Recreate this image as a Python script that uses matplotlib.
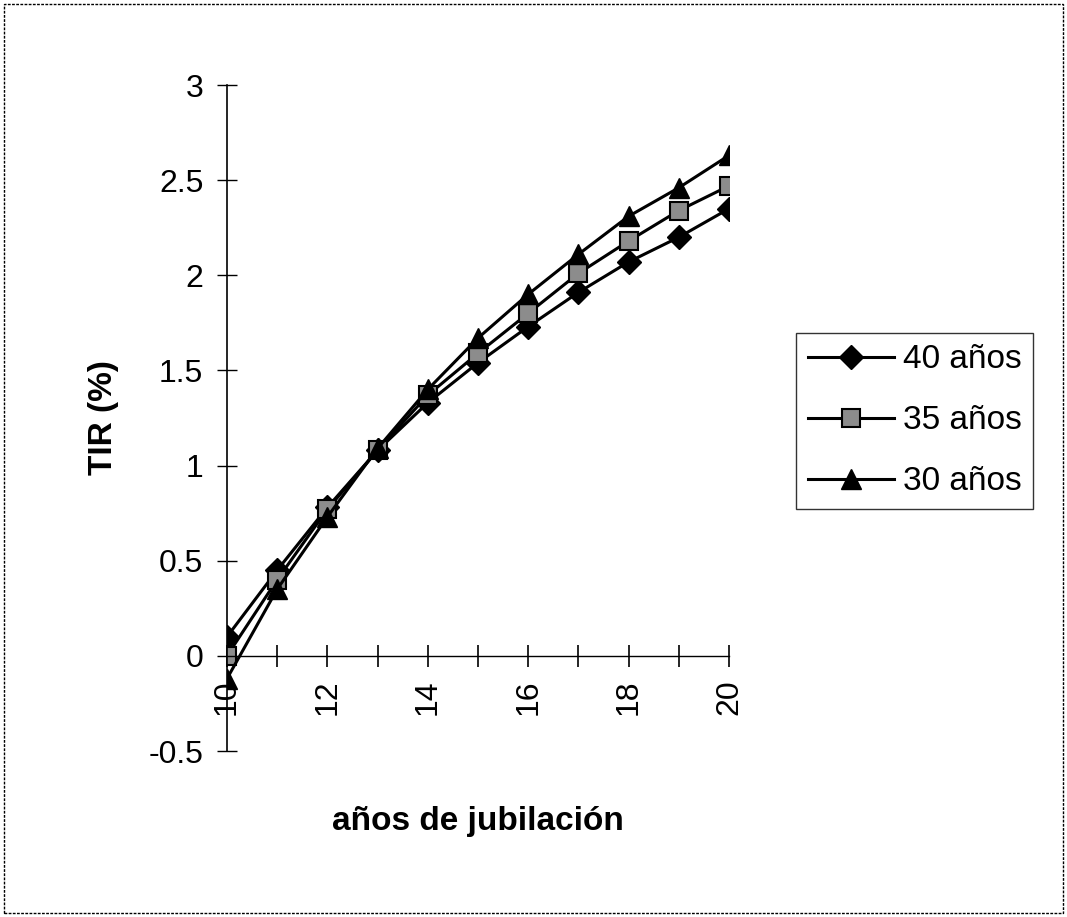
import numpy as np
import matplotlib.pyplot as plt
from matplotlib.patches import Rectangle

plt.rcParams['font.family'] = ['Liberation Sans', 'DejaVu Sans']

# años de jubilación
years = [10, 11, 12, 13, 14, 15, 16, 17, 18, 19, 20]

# TIR (%) for each entry age
tir_40 = [0.10, 0.45, 0.78, 1.08, 1.33, 1.54, 1.73, 1.91, 2.07, 2.20, 2.35]
tir_35 = [0.00, 0.40, 0.77, 1.08, 1.37, 1.59, 1.80, 2.01, 2.18, 2.34, 2.47]
tir_30 = [-0.12, 0.35, 0.73, 1.09, 1.40, 1.67, 1.90, 2.11, 2.31, 2.46, 2.63]

labels = ["40 años", "35 años", "30 años"]

fig = plt.figure(figsize=(10.67, 9.17), dpi=100)
ax = fig.add_axes([0.2127, 0.181, 0.4705, 0.7263])

ax.plot(years, tir_40, color='black', lw=2.2, marker='D', ms=12,
        mfc='black', mec='black', label=labels[0])
ax.plot(years, tir_35, color='black', lw=2.2, marker='s', ms=13,
        mfc='0.55', mec='black', mew=1.5, label=labels[1])
ax.plot(years, tir_30, color='black', lw=2.2, marker='^', ms=15,
        mfc='black', mec='black', label=labels[2])

ax.set_xlim(10, 20)
ax.set_ylim(-0.5, 3)
ax.set_xticks(np.arange(10, 21, 2))
ax.set_xticks(np.arange(10, 21, 1), minor=True)
ax.set_yticks(np.arange(-0.5, 3.01, 0.5))
ax.set_yticklabels(['-0.5', '0', '0.5', '1', '1.5', '2', '2.5', '3'])

for s in ['top', 'right']:
    ax.spines[s].set_visible(False)
ax.spines['bottom'].set_position(('data', 0))
ax.spines['bottom'].set_linestyle((0, (2, 1)))
ax.spines['bottom'].set_linewidth(1.0)
ax.spines['left'].set_linewidth(1.2)

ax.tick_params(axis='x', which='both', direction='inout', length=16,
               width=1.2, labelsize=23, pad=9, labelrotation=90)
ax.tick_params(axis='y', direction='inout', length=14, width=1.0,
               labelsize=23, pad=10)

ax.set_xlabel("años de jubilación", fontsize=24, fontweight='bold',
              labelpad=0)
ax.xaxis.set_label_coords(0.5, -0.082)
ax.set_ylabel("TIR (%)", fontsize=24, fontweight='bold')
ax.yaxis.set_label_coords(-0.215, 0.5)

leg = ax.legend(loc='center left', bbox_to_anchor=(0.746, 0.541),
                bbox_transform=fig.transFigure, fontsize=24,
                frameon=True, fancybox=False, handlelength=2.6,
                labelspacing=0.9, borderpad=0.35, handletextpad=0.25,
                borderaxespad=0)
leg.get_frame().set_edgecolor('black')
leg.get_frame().set_linewidth(1.0)

fig.patches.append(Rectangle((0.004, 0.004), 0.992, 0.992,
                             transform=fig.transFigure, fill=False,
                             edgecolor='black', lw=1.0,
                             linestyle=(0, (2, 1))))

fig.savefig("out.png", dpi=100)
